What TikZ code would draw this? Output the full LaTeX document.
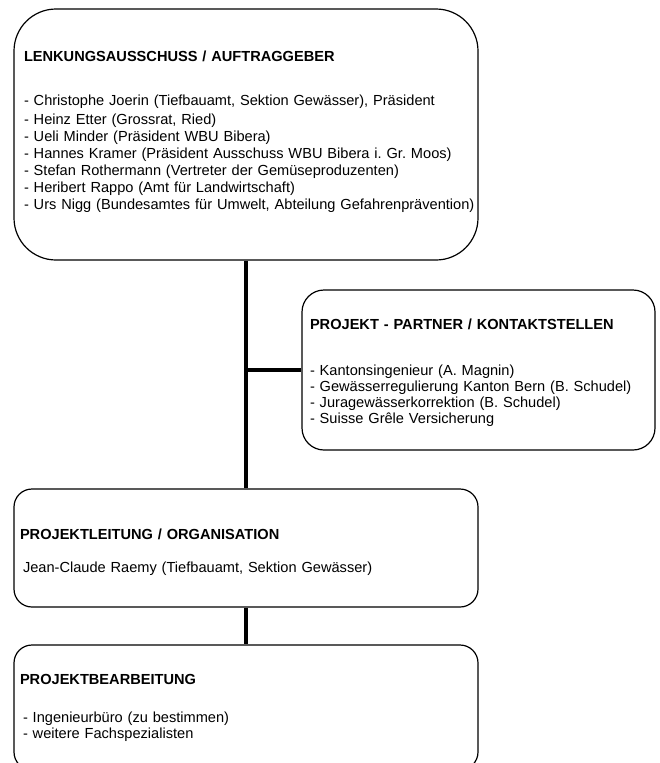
\documentclass[tikz,border=0pt]{standalone}
\usepackage{fontspec}
\setmainfont{Liberation Sans}
\frenchspacing
\newcommand{\headpad}[1]{\rule{0pt}{#1}}
\newcommand{\footpad}[1]{\\[#1]\mbox{}}
\tikzset{
  orgbox/.style={draw, line width=1.2pt, rounded corners=18pt, align=left,
    inner ysep=0pt, font=\fontsize{14.6}{17}\selectfont},
  steerbox/.style={orgbox, rounded corners=42pt, inner xsep=10pt,
    text width=444pt, minimum height=251pt},
  partnerbox/.style={orgbox, rounded corners=22pt, inner xsep=8pt,
    text width=337pt, minimum height=160pt, font=\fontsize{14.6}{16}\selectfont},
  workbox/.style={orgbox, inner xsep=6pt, text width=452pt},
  conn/.style={line width=3.5pt},
}

\begin{document}
\begin{tikzpicture}[x=1pt, y=-1pt]
  \clip (0,0) rectangle (660,763);

  % ---- Top: steering committee ----------------------------------------------
  \node[steerbox] (lenkung) at (246,134.5) {\textbf{LENKUNGSAUSSCHUSS / AUFTRAGGEBER}\\[27pt]
    - Christophe Joerin (Tiefbauamt, Sektion Gewässer), Präsident\\[2pt]
    - Heinz Etter (Grossrat, Ried)\\
    - Ueli Minder (Präsident WBU Bibera)\\
    - Hannes Kramer (Präsident Ausschuss WBU Bibera i. Gr. Moos)\\
    - Stefan Rothermann (Vertreter der Gemüseproduzenten)\\
    - Heribert Rappo (Amt für Landwirtschaft)\\
    \mbox{- Urs Nigg (Bundesamtes für Umwelt, Abteilung Gefahrenprävention)}\footpad{-9pt}};

  % ---- Side branch: partners ------------------------------------------------
  \node[partnerbox] (partner) at (478.5,370) {\headpad{16pt}\textbf{PROJEKT - PARTNER / KONTAKTSTELLEN}\\[30pt]
    - Kantonsingenieur (A. Magnin)\\
    - Gewässerregulierung Kanton Bern (B. Schudel)\\
    - Juragewässerkorrektion (B. Schudel)\\
    - Suisse Grêle Versicherung};

  % ---- Project management and processing ------------------------------------
  \node[workbox, minimum height=118pt] (leitung) at (246,548) {\headpad{19pt}\textbf{PROJEKTLEITUNG / ORGANISATION}\\[16pt]
    \hspace*{3pt}Jean-Claude Raemy (Tiefbauamt, Sektion Gewässer)};
  \node[workbox, minimum height=125pt, font=\fontsize{14.6}{15.5}\selectfont] (bearbeitung) at (246,707.5) {\textbf{PROJEKTBEARBEITUNG}\\[23pt]
    \hspace*{3pt}- Ingenieurbüro (zu bestimmen)\\
    \hspace*{3pt}- weitere Fachspezialisten};

  \draw[conn] (lenkung.south) -- (leitung.north);
  \draw[conn] (lenkung.south |- partner.west) -- (partner.west);
  \draw[conn] (leitung.south) -- (bearbeitung.north);

\end{tikzpicture}
\end{document}
